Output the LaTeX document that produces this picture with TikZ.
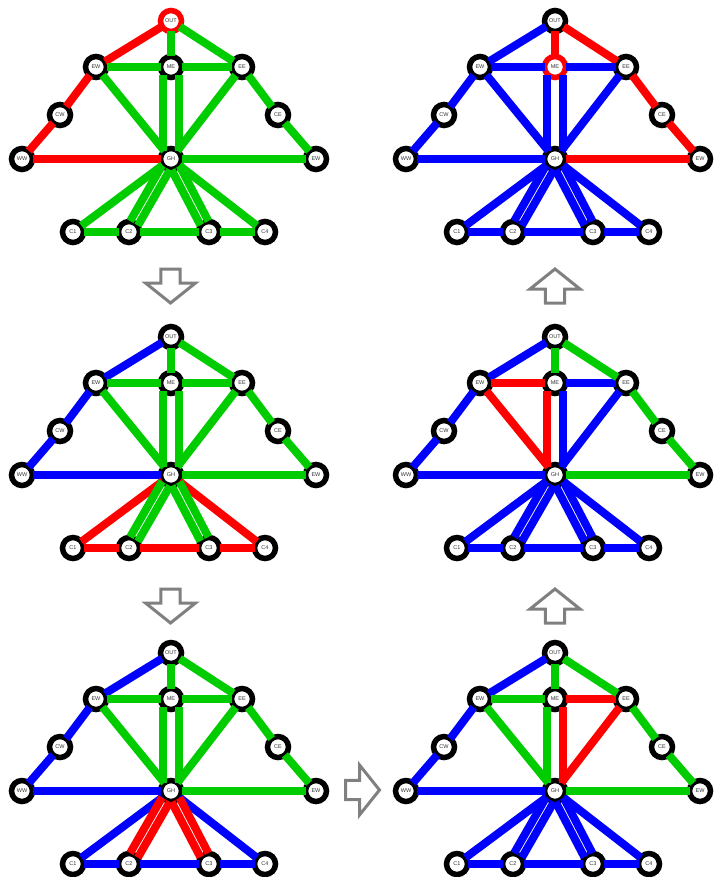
\documentclass[tikz,border=0pt]{standalone}
\usepackage{fontspec}
\usepackage{tikz}
\usetikzlibrary{calc}
\newfontfamily\labelfont{Liberation Sans}
\definecolor{lnkgreen}{RGB}{0,204,0}
\definecolor{lnkred}{RGB}{255,0,0}
\definecolor{lnkblue}{RGB}{0,0,255}
\definecolor{flowgray}{RGB}{128,128,128}
\tikzset{
    vtx/.style  = {circle, draw=black, line width=5.5pt, fill=white,
                   minimum size=21pt, inner sep=0pt, outer sep=0pt,
                   font=\labelfont\fontsize{5.5}{6}\selectfont, text=black!80},
    link/.style = {line width=8pt},
    flow/.style = {draw=flowgray, line width=3pt, fill=white, line join=miter},
}
% one copy of the graph; #4 / #5 = ring colour of OUT / ME
\newcommand{\graphpanel}[5]{%
  \begin{scope}[shift={(#2,#3)}]
    \node[vtx, draw=#4] (#1-OUT) at (171,21)  {OUT};
    \node[vtx]          (#1-EW)  at (96,67)   {EW};
    \node[vtx, draw=#5] (#1-ME)  at (171,67)  {ME};
    \node[vtx]          (#1-EE)  at (242,67)  {EE};
    \node[vtx]          (#1-CW)  at (60,115)  {CW};
    \node[vtx]          (#1-CE)  at (278,115) {CE};
    \node[vtx]          (#1-WW)  at (22,159)  {WW};
    \node[vtx]          (#1-GH)  at (171,159) {GH};
    \node[vtx]          (#1-EWR) at (316,159) {EW};
    \node[vtx]          (#1-C1)  at (73,232)  {C1};
    \node[vtx]          (#1-C2)  at (129,232) {C2};
    \node[vtx]          (#1-C3)  at (209,232) {C3};
    \node[vtx]          (#1-C4)  at (265,232) {C4};
  \end{scope}}
\newcommand{\links}[3]{%
  \foreach \a/\b in {#3} \draw[link, #2] (#1-\a) -- (#1-\b);}
% parallel pairs: from/to/offset/shorten
\newcommand{\twins}[3]{%
  \foreach \a/\b/\o/\s in {#3}
    \draw[link, #2, shorten <=\s, shorten >=\s]
      ($(#1-\a)!\o!90:(#1-\b)$) -- ($(#1-\b)!\o!-90:(#1-\a)$);}
\newcommand{\flowarrow}[2]{%
  \draw[flow, shift={#1}, rotate=#2]
    (-17,-9.7) -- (-3,-9.7) -- (-3,-25) -- (17,0) -- (-3,25)
    -- (-3,9.7) -- (-17,9.7) -- cycle;}

\begin{document}
\begin{tikzpicture}[x=1pt, y=-1pt]
\useasboundingbox (0,0) rectangle (716,877);

% top left
\graphpanel{tl}{0}{0}{lnkred}{black}
\links{tl}{lnkred}{OUT/EW, EW/CW, CW/WW, WW/GH}
\links{tl}{lnkgreen}{OUT/ME, OUT/EE, EW/ME, ME/EE, EE/CE, CE/EWR, GH/EWR,
  EW/GH, EE/GH, GH/C1, GH/C4, C1/C2, C2/C3, C3/C4}
\twins{tl}{lnkgreen}{ME/GH/-8pt/8pt, ME/GH/8pt/8pt, GH/C2/-4.5pt/10pt,
  GH/C2/4.5pt/10pt, GH/C3/-4.5pt/10pt, GH/C3/4.5pt/10pt}

% top right
\graphpanel{tr}{384}{0}{black}{lnkred}
\links{tr}{lnkred}{OUT/ME, OUT/EE, EE/CE, CE/EWR, GH/EWR}
\links{tr}{lnkblue}{OUT/EW, EW/ME, ME/EE, EW/CW, CW/WW, WW/GH, EW/GH,
  EE/GH, GH/C1, GH/C4, C1/C2, C2/C3, C3/C4}
\twins{tr}{lnkblue}{ME/GH/-8pt/8pt, ME/GH/8pt/8pt, GH/C2/-4.5pt/10pt,
  GH/C2/4.5pt/10pt, GH/C3/-4.5pt/10pt, GH/C3/4.5pt/10pt}

% middle left
\graphpanel{ml}{0}{316}{black}{black}
\links{ml}{lnkblue}{OUT/EW, EW/CW, CW/WW, WW/GH}
\links{ml}{lnkred}{GH/C1, GH/C4, C1/C2, C2/C3, C3/C4}
\links{ml}{lnkgreen}{OUT/ME, OUT/EE, EW/ME, ME/EE, EE/CE, CE/EWR, GH/EWR,
  EW/GH, EE/GH}
\twins{ml}{lnkgreen}{ME/GH/-8pt/8pt, ME/GH/8pt/8pt, GH/C2/-4.5pt/10pt,
  GH/C2/4.5pt/10pt, GH/C3/-4.5pt/10pt, GH/C3/4.5pt/10pt}

% middle right
\graphpanel{mr}{384}{316}{black}{black}
\links{mr}{lnkblue}{OUT/EW, EW/CW, CW/WW, WW/GH, ME/EE, EE/GH, GH/C1,
  GH/C4, C1/C2, C2/C3, C3/C4}
\links{mr}{lnkred}{EW/ME, EW/GH}
\links{mr}{lnkgreen}{OUT/ME, OUT/EE, EE/CE, CE/EWR, GH/EWR}
\twins{mr}{lnkred}{ME/GH/-8pt/8pt}
\twins{mr}{lnkblue}{ME/GH/8pt/8pt, GH/C2/-4.5pt/10pt, GH/C2/4.5pt/10pt,
  GH/C3/-4.5pt/10pt, GH/C3/4.5pt/10pt}

% bottom left
\graphpanel{bl}{0}{632}{black}{black}
\links{bl}{lnkblue}{OUT/EW, EW/CW, CW/WW, WW/GH, GH/C1, GH/C4, C1/C2,
  C2/C3, C3/C4}
\links{bl}{lnkgreen}{OUT/ME, OUT/EE, EW/ME, ME/EE, EE/CE, CE/EWR, GH/EWR,
  EW/GH, EE/GH}
\twins{bl}{lnkgreen}{ME/GH/-8pt/8pt, ME/GH/8pt/8pt}
\twins{bl}{lnkred}{GH/C2/-4.5pt/10pt, GH/C2/4.5pt/10pt, GH/C3/-4.5pt/10pt,
  GH/C3/4.5pt/10pt}

% bottom right
\graphpanel{br}{384}{632}{black}{black}
\links{br}{lnkblue}{OUT/EW, EW/CW, CW/WW, WW/GH, GH/C1, GH/C4, C1/C2,
  C2/C3, C3/C4}
\links{br}{lnkred}{ME/EE, EE/GH}
\links{br}{lnkgreen}{OUT/ME, OUT/EE, EW/ME, EE/CE, CE/EWR, GH/EWR, EW/GH}
\twins{br}{lnkgreen}{ME/GH/-8pt/8pt}
\twins{br}{lnkred}{ME/GH/8pt/8pt}
\twins{br}{lnkblue}{GH/C2/-4.5pt/10pt, GH/C2/4.5pt/10pt, GH/C3/-4.5pt/10pt,
  GH/C3/4.5pt/10pt}

% steps between the panels
\flowarrow{(170.5,286)}{-90}
\flowarrow{(170.5,606)}{-90}
\flowarrow{(362.5,790)}{0}
\flowarrow{(555,606)}{90}
\flowarrow{(555,286)}{90}

\end{tikzpicture}
\end{document}
